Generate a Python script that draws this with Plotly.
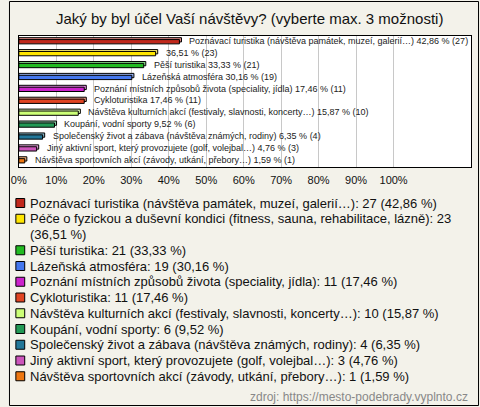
import plotly.graph_objects as go

# ---- data ----
names = [
    "Poznávací turistika (návštěva památek, muzeí, galerií…)",
    "Péče o fyzickou a duševní kondici (fitness, sauna, rehabilitace, lázně)",
    "Pěší turistika",
    "Lázeňská atmosféra",
    "Poznání místních způsobů života (speciality, jídla)",
    "Cykloturistika",
    "Návštěva kulturních akcí (festivaly, slavnosti, koncerty…)",
    "Koupání, vodní sporty",
    "Společenský život a zábava (návštěva známých, rodiny)",
    "Jiný aktivní sport, který provozujete (golf, volejbal…)",
    "Návštěva sportovních akcí (závody, utkání, přebory…)",
]
counts = [27, 23, 21, 19, 11, 11, 10, 6, 4, 3, 1]
pcts = [42.86, 36.51, 33.33, 30.16, 17.46, 17.46, 15.87, 9.52, 6.35, 4.76, 1.59]
colors = ["#c0281c", "#ffe600", "#22bb22", "#4477ee", "#cc22cc", "#e04422",
          "#ccff77", "#229955", "#227799", "#cc55bb", "#ee7711"]
tick_vals = [0, 10, 20, 30, 40, 50, 60, 70, 80, 90, 100]
tick_text = ["0%", "10%", "20%", "30%", "40%", "50%", "60%", "70%", "80%", "90%", "100%"]
title = "Jaký by byl účel Vaší návštěvy? (vyberte max. 3 možnosti)"
source = "zdroj: https://mesto-podebrady.vyplnto.cz"

W, H = 480, 407
FONT = "Liberation Sans, Arial, sans-serif"
BG = "#f3f2ea"


def fmt(p):
    return f"{p:.2f}".replace(".", ",")


def lighten(hexc, f=0.45):
    r, g, b = int(hexc[1:3], 16), int(hexc[3:5], 16), int(hexc[5:7], 16)
    r, g, b = [int(c + (255 - c) * f) for c in (r, g, b)]
    return f"#{r:02x}{g:02x}{b:02x}"


ypos = list(range(len(names)))

fig = go.Figure()
# 3D "top face" shadow
fig.add_trace(go.Bar(
    x=[p + 0.55 for p in pcts], y=ypos, orientation="h",
    width=0.36, offset=-0.36,
    marker=dict(color=[lighten(c) for c in colors], line=dict(color="black", width=1)),
    hoverinfo="skip", showlegend=False,
))
fig.add_trace(go.Bar(
    x=pcts, y=ypos, orientation="h",
    width=0.36, offset=-0.2,
    marker=dict(color=colors, line=dict(color="black", width=1)),
    showlegend=False,
))

annotations = []
# bar value labels
for i, (n, c, p) in enumerate(zip(names, counts, pcts)):
    full = f"{n} {fmt(p)} % ({c})"
    lab = full if len(full) <= 75 else f"{fmt(p)} % ({c})"
    annotations.append(dict(
        x=p, y=i, xref="x", yref="y", text=lab, showarrow=False,
        xanchor="left", yanchor="middle", xshift=8, yshift=1,
        font=dict(size=9, color="#222", family=FONT),
    ))

# custom legend
shapes = []
line_h = 15.75
line = 0
for n, c, p, col in zip(names, counts, pcts, colors):
    text = f"{n}: {c} ({fmt(p)} %)"
    parts = [text]
    if len(text) > 78:
        k = text.rfind(" ", 0, 78)
        parts = [text[:k], text[k + 1:]]
    ypx = 203 + line * line_h
    shapes.append(dict(
        type="rect", xref="paper", yref="paper",
        x0=8 / W, x1=17 / W, y0=1 - (ypx - 4.5) / H, y1=1 - (ypx + 4.5) / H,
        fillcolor=col, line=dict(color="black", width=1),
    ))
    for part in parts:
        ypx = 203 + line * line_h
        annotations.append(dict(
            x=20 / W, y=1 - ypx / H, xref="paper", yref="paper", text=part,
            showarrow=False, xanchor="left", yanchor="middle",
            font=dict(size=13, color="#111", family=FONT),
        ))
        line += 1

annotations.append(dict(
    x=246 / W, y=1 - 18 / H, xref="paper", yref="paper", text=title,
    showarrow=False, xanchor="center", yanchor="middle",
    font=dict(size=15, color="#111", family=FONT),
))
annotations.append(dict(
    x=470 / W, y=1 - 397 / H, xref="paper", yref="paper", text=source,
    showarrow=False, xanchor="right", yanchor="middle",
    font=dict(size=12, color="#888", family=FONT),
))

shapes.append(dict(
    type="rect", xref="paper", yref="paper",
    x0=1.5 / W, x1=1 - 1.5 / W, y0=1.5 / H, y1=1 - 1.5 / H,
    line=dict(color="black", width=1), fillcolor="rgba(0,0,0,0)", layer="below",
))

fig.update_layout(
    width=W, height=H,
    margin=dict(l=0, r=0, t=0, b=0),
    paper_bgcolor=BG, plot_bgcolor="white",
    barmode="overlay", showlegend=False,
    font=dict(family=FONT, color="#111"),
    annotations=annotations, shapes=shapes,
    xaxis=dict(
        domain=[11 / W, 471 / W], range=[0, 120.7],
        tickvals=tick_vals, ticktext=tick_text, tickfont=dict(size=11, color="#111"),
        ticklabelstandoff=3,
        showgrid=True, gridcolor="#c8c8c8", gridwidth=1, zeroline=False,
        showline=True, linecolor="black", linewidth=1, mirror=True,
        ticks="", fixedrange=True,
    ),
    yaxis=dict(
        domain=[1 - 167 / H, 1 - 36 / H], range=[len(names) - 0.5, -0.5],
        showticklabels=False, showgrid=False, zeroline=False,
        showline=True, linecolor="black", linewidth=1, mirror=True,
        ticks="", fixedrange=True,
    ),
)

fig.write_html(
    "out.html",
    config={"displayModeBar": False},
    post_script="document.body.style.margin='0';document.body.style.background='%s';" % BG,
)
